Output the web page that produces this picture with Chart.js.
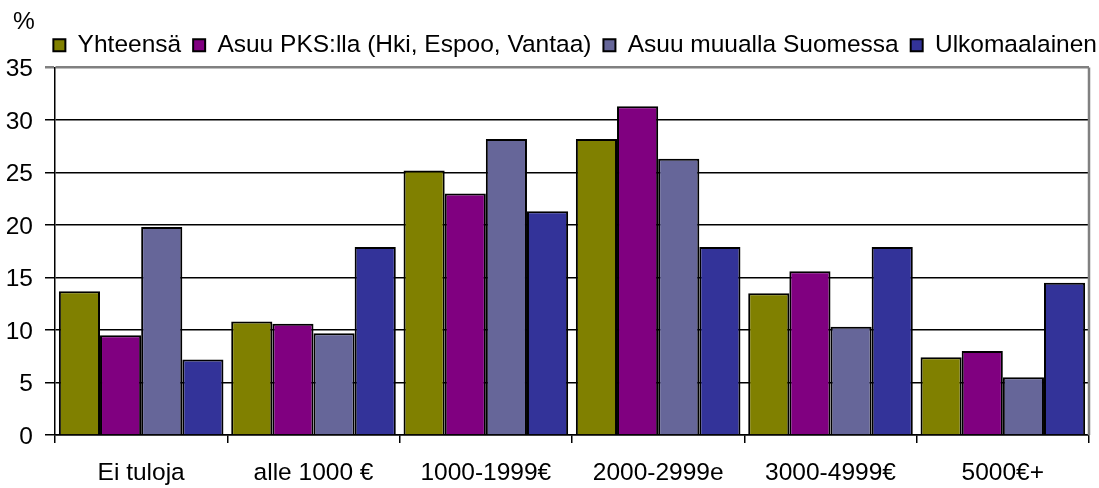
<!DOCTYPE html>
<html><head><meta charset="utf-8">
<script src="https://cdn.jsdelivr.net/npm/chart.js@4"></script>
<style>html,body{margin:0;padding:0;background:#fff}#wrap{width:1099px;height:488px}</style>
</head><body><div id="wrap"><canvas id="c" width="1099" height="488"></canvas></div>
<script>
const categories = ["Ei tuloja", "alle 1000 €", "1000-1999€", "2000-2999e", "3000-4999€", "5000€+"];
const seriesNames = ["Yhteensä", "Asuu PKS:lla (Hki, Espoo, Vantaa)", "Asuu muualla Suomessa", "Ulkomaalainen"];
const yhteensa = [13.7, 10.8, 25.2, 28.2, 13.5, 7.4];
const pks = [9.5, 10.6, 23.0, 31.3, 15.6, 8.0];
const muualla = [19.8, 9.7, 28.2, 26.3, 10.3, 5.5];
const ulkomaalainen = [7.2, 17.9, 21.3, 17.9, 17.9, 14.5];
const yTicks = [0, 5, 10, 15, 20, 25, 30, 35];
const yUnit = "%";
const colors = ["#808000", "#800080", "#666699", "#333399"];

const FONT = "'Liberation Sans', Arial, 'DejaVu Sans', sans-serif";
const values = [yhteensa, pks, muualla, ulkomaalainen];

const extrasPlugin = {
  id: 'extras',
  afterLayout(chart) {
    if (chart.legend) { chart.legend.left += 20; chart.legend.right += 20; }
  },
  afterDraw(chart) {
    const {ctx, chartArea} = chart;
    ctx.save();
    ctx.strokeStyle = '#808080';
    ctx.lineWidth = 2.5;
    ctx.beginPath();
    ctx.moveTo(chartArea.right, chartArea.top);
    ctx.lineTo(chartArea.right, chartArea.bottom);
    ctx.stroke();
    ctx.fillStyle = '#000';
    ctx.font = "24.5px " + FONT;
    ctx.textBaseline = 'alphabetic';
    ctx.textAlign = 'left';
    ctx.fillText(yUnit, 13, 29);
    ctx.restore();
  }
};

new Chart(document.getElementById('c'), {
  type: 'bar',
  data: {
    labels: categories,
    datasets: seriesNames.map((n, i) => ({
      label: n,
      data: values[i],
      backgroundColor: colors[i],
      borderColor: '#000',
      borderWidth: 2,
      categoryPercentage: 0.955,
      barPercentage: 1.0
    }))
  },
  options: {
    responsive: false,
    animation: false,
    devicePixelRatio: 1,
    layout: {padding: {left: 0, right: 10, top: 21, bottom: 0}},
    plugins: {
      title: {display: false},
      legend: {
        position: 'top', align: 'end',
        labels: {
          color: '#000', font: {family: FONT, size: 24.5},
          boxWidth: 12, boxHeight: 12, padding: 12
        }
      },
      tooltip: {enabled: false}
    },
    scales: {
      x: {
        afterFit(scale) { scale.height = 53; },
        grid: {display: true, offset: true, drawOnChartArea: false, drawTicks: true, tickLength: 8, color: '#000', lineWidth: 1.5},
        border: {display: true, color: '#000', width: 1.5},
        ticks: {color: '#000', font: {family: FONT, size: 24.5}, padding: 16, maxRotation: 0, autoSkip: false}
      },
      y: {
        min: 0, max: 35,
        afterFit(scale) { scale.width = 55; },
        afterBuildTicks(scale) { scale.ticks = yTicks.map(v => ({value: v})); },
        grid: {color: (c) => c.tick && c.tick.value === 35 ? '#808080' : '#000', lineWidth: (c) => c.tick && c.tick.value === 35 ? 2.5 : 1.5, tickLength: 10, drawTicks: true},
        border: {display: true, color: '#000', width: 1.5},
        ticks: {color: '#000', font: {family: FONT, size: 24.5}, padding: 12, labelOffset: 2}
      }
    }
  },
  plugins: [extrasPlugin]
});
</script>
</body></html>
